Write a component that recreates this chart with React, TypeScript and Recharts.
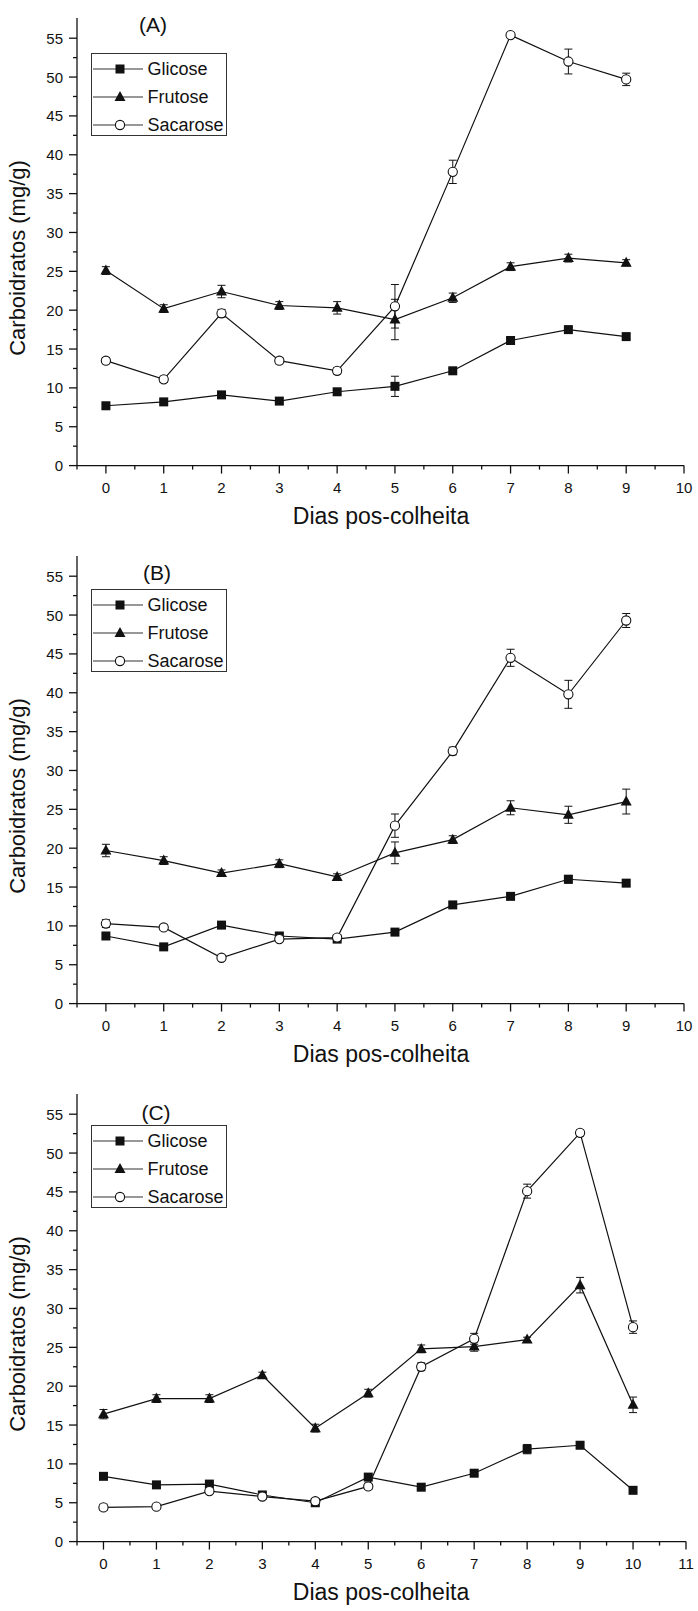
import { LineChart, Line, XAxis, YAxis, ErrorBar, Legend, Label } from 'recharts'

const FONT = '"Liberation Sans", Arial, Helvetica, sans-serif'
const INK = '#111'

// dias pos-colheita
const diasAB = [0, 1, 2, 3, 4, 5, 6, 7, 8, 9]
const diasC = [0, 1, 2, 3, 4, 5, 6, 7, 8, 9, 10]

// (A)
const glicoseA = [7.7, 8.2, 9.1, 8.3, 9.5, 10.2, 12.2, 16.1, 17.5, 16.6]
const glicoseAErr = [0.3, 0.3, 0.3, 0.3, 0.3, 1.3, 0.3, 0.4, 0.3, 0.3]
const frutoseA = [25.1, 20.2, 22.4, 20.6, 20.3, 18.8, 21.6, 25.6, 26.7, 26.1]
const frutoseAErr = [0.5, 0.5, 0.8, 0.5, 0.8, 2.6, 0.6, 0.5, 0.5, 0.4]
const sacaroseA = [13.5, 11.1, 19.6, 13.5, 12.2, 20.5, 37.8, 55.4, 52.0, 49.7]
const sacaroseAErr = [0.4, 0.4, 0.5, 0.4, 0.4, 2.8, 1.5, 0.3, 1.6, 0.8]

// (B)
const glicoseB = [8.7, 7.3, 10.1, 8.7, 8.3, 9.2, 12.7, 13.8, 16.0, 15.5]
const glicoseBErr = [0.3, 0.3, 0.3, 0.3, 0.3, 0.4, 0.3, 0.3, 0.5, 0.4]
const frutoseB = [19.7, 18.4, 16.8, 18.0, 16.3, 19.4, 21.1, 25.2, 24.3, 26.0]
const frutoseBErr = [0.8, 0.5, 0.4, 0.5, 0.4, 1.4, 0.5, 0.9, 1.1, 1.6]
const sacaroseB = [10.3, 9.8, 5.9, 8.3, 8.5, 22.9, 32.5, 44.5, 39.8, 49.3]
const sacaroseBErr = [0.5, 0.3, 0.3, 0.3, 0.3, 1.5, 0.5, 1.1, 1.8, 0.9]

// (C)
const glicoseC = [8.4, 7.3, 7.4, 6.0, 5.0, 8.3, 7.0, 8.8, 11.9, 12.4, 6.6]
const glicoseCErr = [0.3, 0.3, 0.3, 0.3, 0.3, 0.4, 0.3, 0.3, 0.6, 0.3, 0.3]
const frutoseC = [16.4, 18.4, 18.4, 21.4, 14.6, 19.1, 24.8, 25.1, 26.0, 33.0, 17.6]
const frutoseCErr = [0.6, 0.5, 0.5, 0.4, 0.5, 0.5, 0.5, 0.6, 0.3, 1.0, 1.0]
const sacaroseC = [4.4, 4.5, 6.5, 5.8, 5.2, 7.1, 22.5, 26.1, 45.1, 52.6, 27.6]
const sacaroseCErr = [0.4, 0.3, 0.3, 0.3, 0.3, 0.4, 0.5, 0.7, 0.9, 0.4, 0.8]

const xTicksAB = [-0.5, 0, 0.5, 1, 1.5, 2, 2.5, 3, 3.5, 4, 4.5, 5, 5.5, 6, 6.5, 7, 7.5, 8, 8.5, 9, 9.5, 10]
const xTicksC = [...xTicksAB, 10.5, 11]
const yTicks = [0, 2.5, 5, 7.5, 10, 12.5, 15, 17.5, 20, 22.5, 25, 27.5, 30, 32.5, 35, 37.5, 40, 42.5, 45, 47.5, 50, 52.5, 55]

function XTick(props: any) {
  const { x, y, payload } = props
  const v = payload.value
  const major = Number.isInteger(v) && v >= 0
  return (
    <g>
      <line x1={x} x2={x} y1={y} y2={y + (major ? 8 : 4)} stroke={INK} strokeWidth={1.3} />
      {major && (
        <text x={x} y={y + 22} textAnchor="middle" dominantBaseline="central" fontSize={15} fontFamily={FONT} fill={INK}>
          {v}
        </text>
      )}
    </g>
  )
}

function YTick(props: any) {
  const { x, y, payload } = props
  const v = payload.value
  const major = v % 5 === 0
  return (
    <g>
      <line x1={x} x2={x - (major ? 8 : 4)} y1={y} y2={y} stroke={INK} strokeWidth={1.3} />
      {major && (
        <text x={x - 14} y={y} textAnchor="end" dominantBaseline="central" fontSize={15} fontFamily={FONT} fill={INK}>
          {v}
        </text>
      )}
    </g>
  )
}

const Quadrado = (p: any) =>
  p.cx == null ? <g key={p.key} /> : <rect key={p.key} x={p.cx - 4.5} y={p.cy - 4.5} width={9} height={9} fill={INK} />

const Triangulo = (p: any) =>
  p.cx == null ? (
    <g key={p.key} />
  ) : (
    <polygon key={p.key} points={`${p.cx},${p.cy - 6} ${p.cx + 5.5},${p.cy + 4} ${p.cx - 5.5},${p.cy + 4}`} fill={INK} />
  )

const Circulo = (p: any) =>
  p.cx == null ? <g key={p.key} /> : <circle key={p.key} cx={p.cx} cy={p.cy} r={4.6} fill="#fff" stroke={INK} strokeWidth={1.1} />

const itensLegenda = [
  { nome: 'Glicose', marca: 'q' },
  { nome: 'Frutose', marca: 't' },
  { nome: 'Sacarose', marca: 'c' },
]

function Legenda() {
  return (
    <div style={{ width: 134, height: 81, border: '1px solid #333', background: '#fff', position: 'relative', fontFamily: FONT }}>
      {itensLegenda.map((it, i) => {
        const cy = 15 + 28 * i
        return (
          <div key={it.nome}>
            <svg width={54} height={20} style={{ position: 'absolute', left: 0, top: cy - 10 }}>
              <line x1={1} x2={51} y1={10} y2={10} stroke="#333" strokeWidth={1.2} />
              {it.marca === 'q' && <rect x={23.5} y={5.5} width={9} height={9} fill={INK} />}
              {it.marca === 't' && <polygon points="28,4 33.5,14 22.5,14" fill={INK} />}
              {it.marca === 'c' && <circle cx={28} cy={10} r={4.6} fill="#fff" stroke={INK} strokeWidth={1.1} />}
            </svg>
            <span style={{ position: 'absolute', left: 56, top: cy - 11, fontSize: 18, lineHeight: '22px', color: INK }}>
              {it.nome}
            </span>
          </div>
        )
      })}
    </div>
  )
}

interface PainelProps {
  letra: string
  letraPos: [number, number]
  legTop: number
  dias: number[]
  glicose: number[]
  glicoseErr: number[]
  frutose: number[]
  frutoseErr: number[]
  sacarose: number[]
  sacaroseErr: number[]
  xMax: number
  xTicks: number[]
  right: number
}

function Painel(p: PainelProps) {
  const data = p.dias.map((d, i) => ({
    dia: d,
    glicose: p.glicose[i],
    glicoseErr: p.glicoseErr[i],
    frutose: p.frutose[i],
    frutoseErr: p.frutoseErr[i],
    sacarose: p.sacarose[i],
    sacaroseErr: p.sacaroseErr[i],
  }))

  return (
    <div style={{ position: 'relative', width: 698, height: 538 }}>
      <LineChart width={698} height={538} data={data} margin={{ top: 18, right: p.right, left: 17, bottom: 12.4 }}>
        <XAxis
          dataKey="dia"
          type="number"
          domain={[-0.5, p.xMax]}
          ticks={p.xTicks}
          interval={0}
          height={60}
          tickSize={0}
          tickMargin={0}
          tick={<XTick />}
          axisLine={{ stroke: INK, strokeWidth: 1.3 }}
          tickLine={false}
        >
          <Label
            content={() => (
              <text x={381} y={516} textAnchor="middle" dominantBaseline="central" fontSize={23} fontFamily={FONT} fill={INK}>
                Dias pos-colheita
              </text>
            )}
          />
        </XAxis>
        <YAxis
          type="number"
          domain={[0, 57.6]}
          allowDataOverflow
          ticks={yTicks}
          interval={0}
          width={60}
          tickSize={0}
          tickMargin={0}
          tick={<YTick />}
          axisLine={{ stroke: INK, strokeWidth: 1.3 }}
          tickLine={false}
        >
          <Label
            content={() => (
              <text
                x={17}
                y={258}
                transform="rotate(-90, 17, 258)"
                textAnchor="middle"
                dominantBaseline="central"
                fontSize={22}
                fontFamily={FONT}
                fill={INK}
              >
                Carboidratos (mg/g)
              </text>
            )}
          />
        </YAxis>
        <Legend
          layout="vertical"
          align="center"
          verticalAlign="middle"
          content={() => <Legenda />}
          wrapperStyle={{ left: 90.5, top: p.legTop, width: 136, height: 83 }}
        />
        <Line type="linear" dataKey="glicose" stroke={INK} strokeWidth={1.2} dot={Quadrado} activeDot={false} isAnimationActive={false}>
          <ErrorBar dataKey="glicoseErr" width={4} stroke={INK} strokeWidth={1} direction="y" isAnimationActive={false} />
        </Line>
        <Line type="linear" dataKey="frutose" stroke={INK} strokeWidth={1.2} dot={Triangulo} activeDot={false} isAnimationActive={false}>
          <ErrorBar dataKey="frutoseErr" width={4} stroke={INK} strokeWidth={1} direction="y" isAnimationActive={false} />
        </Line>
        <Line type="linear" dataKey="sacarose" stroke={INK} strokeWidth={1.2} dot={Circulo} activeDot={false} isAnimationActive={false}>
          <ErrorBar dataKey="sacaroseErr" width={4} stroke={INK} strokeWidth={1} direction="y" isAnimationActive={false} />
        </Line>
      </LineChart>
      <div
        style={{
          position: 'absolute',
          left: p.letraPos[0],
          top: p.letraPos[1],
          transform: 'translate(-50%, -50%)',
          fontFamily: FONT,
          fontSize: 21,
          color: INK,
          lineHeight: '24px',
        }}
      >
        {p.letra}
      </div>
    </div>
  )
}

export default function App() {
  return (
    <div style={{ position: 'absolute', left: 0, top: 0, width: 698, background: '#fff' }}>
      <Painel
        letra="(A)"
        letraPos={[153, 25]}
        legTop={53}
        dias={diasAB}
        glicose={glicoseA}
        glicoseErr={glicoseAErr}
        frutose={frutoseA}
        frutoseErr={frutoseAErr}
        sacarose={sacaroseA}
        sacaroseErr={sacaroseAErr}
        xMax={10}
        xTicks={xTicksAB}
        right={14}
      />
      <Painel
        letra="(B)"
        letraPos={[157, 35]}
        legTop={51}
        dias={diasAB}
        glicose={glicoseB}
        glicoseErr={glicoseBErr}
        frutose={frutoseB}
        frutoseErr={frutoseBErr}
        sacarose={sacaroseB}
        sacaroseErr={sacaroseBErr}
        xMax={10}
        xTicks={xTicksAB}
        right={14}
      />
      <Painel
        letra="(C)"
        letraPos={[156, 37]}
        legTop={49}
        dias={diasC}
        glicose={glicoseC}
        glicoseErr={glicoseCErr}
        frutose={frutoseC}
        frutoseErr={frutoseCErr}
        sacarose={sacaroseC}
        sacaroseErr={sacaroseCErr}
        xMax={11}
        xTicks={xTicksC}
        right={12}
      />
    </div>
  )
}
